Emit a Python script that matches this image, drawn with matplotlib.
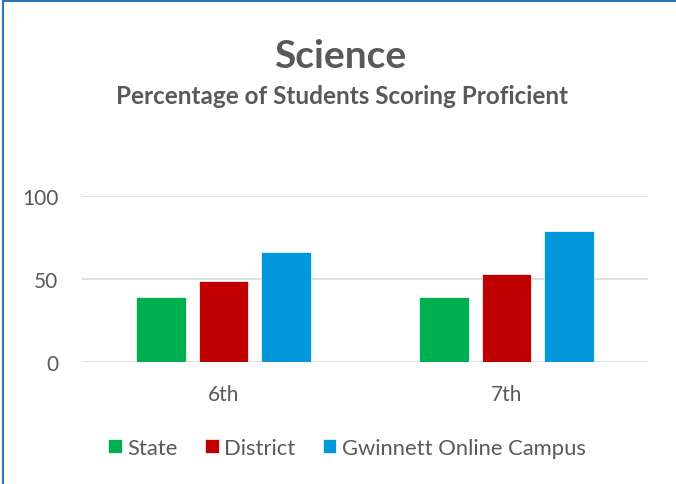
import numpy as np
import matplotlib
matplotlib.use('Agg')
import matplotlib.pyplot as plt
from matplotlib.patches import Rectangle

# data
grades = ['6th', '7th']
state = [39, 39]
district = [49, 53]
online = [66, 79]
series_names = ['State', 'District', 'Gwinnett Online Campus']
colors = ['#00B050', '#C00000', '#0098DA']
yticks = [0, 50, 100]

plt.rcParams['font.family'] = ['Lato', 'DejaVu Sans']
txt = '#595959'

fig = plt.figure(figsize=(6.76, 4.85), dpi=100)
ax = fig.add_axes([82/676, 1 - 363/485, 566/676, 166/485])

x = np.arange(len(grades))
w = 0.176
step = 0.222
for i, (vals, name, c) in enumerate(zip([state, district, online], series_names, colors)):
    ax.bar(x + (i - 1) * step, vals, w, color=c, label=name, edgecolor='white', linewidth=0.5, zorder=3)

ax.set_xlim(-0.5, 1.5)
ax.set_ylim(0, 100)
ax.set_yticks(yticks)
ax.set_xticks(x)
ax.set_xticklabels(grades)
ax.yaxis.grid(True, color='#D9D9D9', linewidth=1.2, zorder=0)
ax.set_axisbelow(True)
for s in ax.spines.values():
    s.set_visible(False)
ax.tick_params(length=0, labelsize=15, labelcolor=txt)
ax.tick_params(axis='y', pad=17)
ax.tick_params(axis='x', pad=16)

fig.text(340/676, 1 - 56/485, 'Science', ha='center', va='center', fontsize=28, fontweight='bold', color=txt)
fig.text(342/676, 1 - 97/485, 'Percentage of Students Scoring Proficient', ha='center', va='center',
         fontsize=17.5, fontweight='bold', color=txt)

leg = fig.legend(loc='center', bbox_to_anchor=(347/676, 1 - 449/485), ncol=3, frameon=False,
                 fontsize=15.8, handlelength=0.62, handleheight=0.62, handletextpad=0.25, columnspacing=1.25,
                 labelcolor=txt)

# blue frame of the chart box
fig.patches.append(Rectangle((3/676, -0.05), 1.1, 1 - 2/485 + 0.05, transform=fig.transFigure,
                             fill=False, edgecolor='#2E75B6', linewidth=1.5))

fig.savefig('out.png', dpi=100)
